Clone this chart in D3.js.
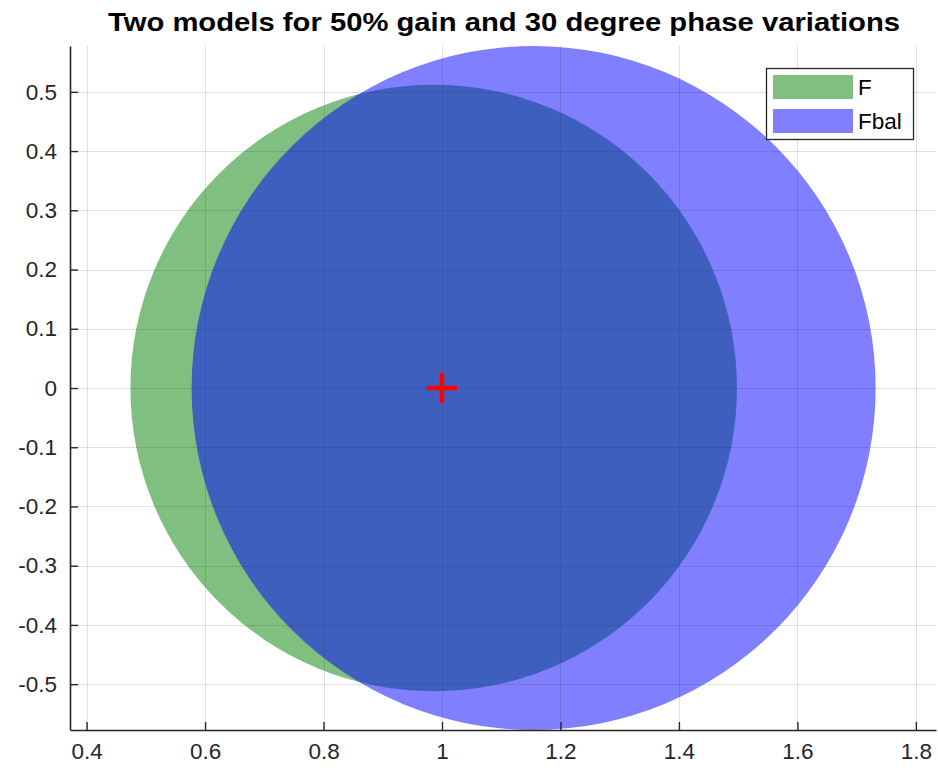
<!DOCTYPE html>
<html>
<head>
<meta charset="utf-8">
<script src="https://cdn.jsdelivr.net/npm/d3@7"></script>
<style>
  html, body { margin: 0; padding: 0; background: #fff; }
  svg { display: block; }
  text { font-family: Arial, "Liberation Sans", Helvetica, sans-serif; }
</style>
</head>
<body>
<svg id="chart" width="938" height="776"></svg>
<script>
// ---- data ----
const titleText = "Two models for 50% gain and 30 degree phase variations";
const seriesNames = ["F", "Fbal"];
const seriesCenterX = [0.986, 1.1547];
const seriesCenterY = [0, 0];
const seriesRadius = [0.512, 0.5774];
const seriesColors = ["rgb(0,128,0)", "rgb(0,0,255)"];
const markerPoint = [1, 0];
const xTicks = [0.4, 0.6, 0.8, 1, 1.2, 1.4, 1.6, 1.8];
const yTicks = [-0.5, -0.4, -0.3, -0.2, -0.1, 0, 0.1, 0.2, 0.3, 0.4, 0.5];
const xDomain = [0.372, 1.834];
const yDomain = [-0.5774, 0.5774];

// ---- layout ----
const W = 938, H = 776;
const M = { left: 70, right: 2, top: 46, bottom: 46 };
const svg = d3.select("#chart");
const x = d3.scaleLinear().domain(xDomain).range([M.left, W - M.right]);
const y = d3.scaleLinear().domain(yDomain).range([H - M.bottom, M.top]);
const axisColor = "#262626";

// circles (patches)
const g = svg.append("g");
seriesNames.forEach((name, i) => {
  g.append("ellipse")
    .attr("cx", x(seriesCenterX[i]))
    .attr("cy", y(seriesCenterY[i]))
    .attr("rx", x(seriesCenterX[i] + seriesRadius[i]) - x(seriesCenterX[i]))
    .attr("ry", y(seriesCenterY[i]) - y(seriesCenterY[i] + seriesRadius[i]))
    .attr("fill", seriesColors[i])
    .attr("fill-opacity", 0.5);
});

// grid on top
const grid = svg.append("g").attr("stroke", "rgba(38,38,38,0.15)").attr("stroke-width", 1);
xTicks.forEach(t => grid.append("line")
  .attr("x1", Math.round(x(t)) + 0.5).attr("x2", Math.round(x(t)) + 0.5)
  .attr("y1", M.top).attr("y2", H - M.bottom));
yTicks.forEach(t => grid.append("line")
  .attr("y1", Math.round(y(t)) + 0.5).attr("y2", Math.round(y(t)) + 0.5)
  .attr("x1", M.left).attr("x2", W - M.right));

// red plus marker
const mk = svg.append("g").attr("stroke", "red").attr("stroke-width", 4.5);
mk.append("line").attr("x1", x(markerPoint[0]) - 15).attr("x2", x(markerPoint[0]) + 15)
  .attr("y1", y(markerPoint[1])).attr("y2", y(markerPoint[1]));
mk.append("line").attr("x1", x(markerPoint[0])).attr("x2", x(markerPoint[0]))
  .attr("y1", y(markerPoint[1]) - 15).attr("y2", y(markerPoint[1]) + 15);

// axes
const fmt = d => String(d);
const xAxis = svg.append("g").attr("transform", `translate(0,${H - M.bottom})`)
  .call(d3.axisBottom(x).tickValues(xTicks).tickFormat(fmt).tickSizeInner(-8).tickSizeOuter(0).tickPadding(13));
const yAxis = svg.append("g").attr("transform", `translate(${M.left},0)`)
  .call(d3.axisLeft(y).tickValues(yTicks).tickFormat(fmt).tickSizeInner(-8).tickSizeOuter(0).tickPadding(13));
[xAxis, yAxis].forEach(a => {
  a.select(".domain").attr("stroke", axisColor).attr("stroke-width", 1.6);
  a.selectAll(".tick line").attr("stroke", axisColor).attr("stroke-width", 1.4);
  a.selectAll(".tick text").attr("fill", axisColor).attr("font-size", 22.5)
    .attr("font-family", "Arial, 'Liberation Sans', Helvetica, sans-serif");
});

// title
svg.append("text")
  .attr("x", 504).attr("y", 31)
  .attr("text-anchor", "middle").attr("font-weight", "bold").attr("font-size", 25)
  .attr("textLength", 792).attr("lengthAdjust", "spacingAndGlyphs")
  .attr("fill", "#000")
  .text(titleText);

// legend
const lg = svg.append("g").attr("transform", "translate(766,68)");
lg.append("rect").attr("x", 0.5).attr("y", 0.5).attr("width", 147).attr("height", 71)
  .attr("fill", "#fff").attr("stroke", axisColor).attr("stroke-width", 1.3);
seriesNames.forEach((name, i) => {
  lg.append("rect").attr("x", 7).attr("y", 7 + i * 34).attr("width", 80).attr("height", 24)
    .attr("fill", seriesColors[i]).attr("fill-opacity", 0.5);
  lg.append("text").attr("x", 92).attr("y", 27 + i * 34)
    .attr("font-size", 22.5).attr("fill", "#000").text(name);
});
</script>
</body>
</html>
